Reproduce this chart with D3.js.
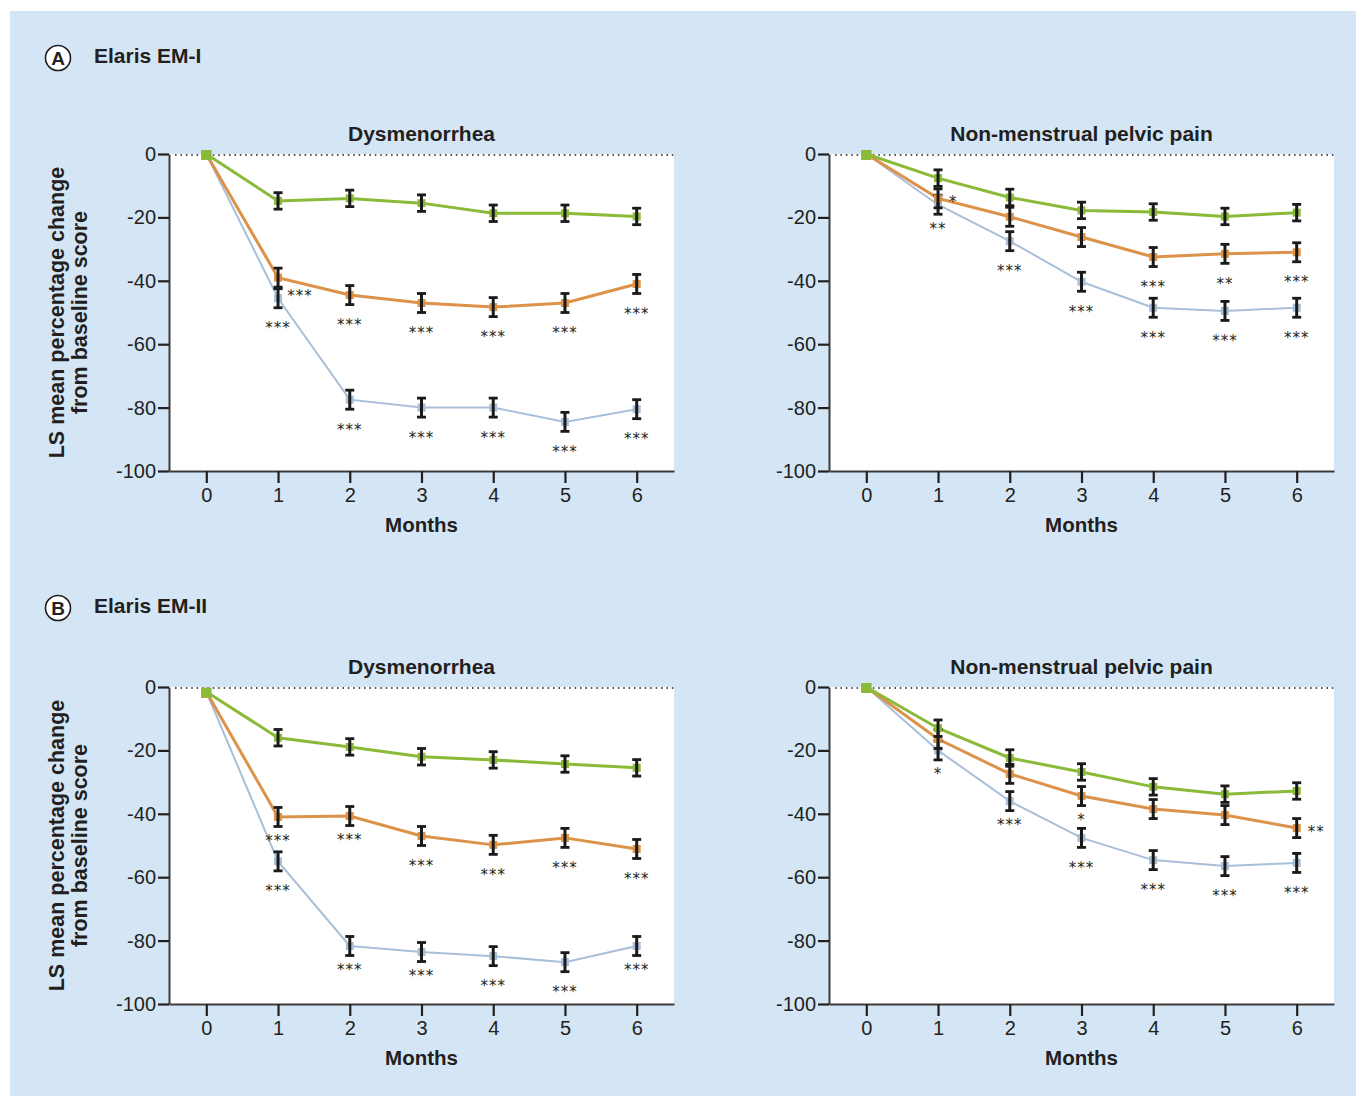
<!DOCTYPE html>
<html>
<head>
<meta charset="utf-8">
<script src="https://cdn.jsdelivr.net/npm/d3@7"></script>
<style>
  body { margin: 0; background: #fff; }
  svg { display: block; font-family: "Liberation Sans", Arial, sans-serif; }
  .tick text { font-size: 20px; fill: #231f20; }
  .bold { font-weight: bold; fill: #231f20; }
  .star { font-family: "DejaVu Sans", sans-serif; }
</style>
</head>
<body>
<div class="vis"></div>
<script>
// ---- data ----
const months = [0, 1, 2, 3, 4, 5, 6];
const yTicks = [0, -20, -40, -60, -80, -100];
const seriesColors = ['#a9bfd8', '#dc9248', '#8aba38']; // 200 mg BID, 150 mg QD, placebo

// Elaris EM-I, dysmenorrhea
const em1DysHigh = [0, -45.5, -77.5, -80, -80, -84.5, -80.5];
const em1DysLow = [0, -39, -44.5, -47, -48.3, -47, -41];
const em1DysPlacebo = [0, -14.8, -14, -15.5, -18.7, -18.7, -19.7];
// Elaris EM-I, non-menstrual pelvic pain
const em1NmppHigh = [0, -16, -27.5, -40.3, -48.5, -49.5, -48.5];
const em1NmppLow = [0, -14, -19.8, -26.2, -32.5, -31.5, -31];
const em1NmppPlacebo = [0, -7.6, -13.7, -17.8, -18.3, -19.7, -18.5];
// Elaris EM-II, dysmenorrhea
const em2DysHigh = [-1.5, -55, -81.7, -83.6, -84.9, -86.8, -81.7];
const em2DysLow = [-1.5, -41, -40.7, -47, -49.8, -47.6, -51.1];
const em2DysPlacebo = [-1.5, -16, -18.9, -22, -23, -24.3, -25.5];
// Elaris EM-II, non-menstrual pelvic pain
const em2NmppHigh = [0, -20, -36, -47.6, -54.6, -56.5, -55.5];
const em2NmppLow = [0, -16.4, -27.4, -34.4, -38.5, -40.4, -44.5];
const em2NmppPlacebo = [0, -13, -22.4, -26.8, -31.5, -33.8, -32.8];

// standard errors (half length of the error bars)
const seHigh = [0, 3, 3, 3, 3, 3, 3];
const seLow = [0, 3, 3, 3, 3, 3, 3];
const sePlacebo = [0, 2.6, 2.6, 2.6, 2.6, 2.6, 2.6];

// significance marks: [month, series index, text, placement]
const em1DysStars = [[1, 1, '***', 'right'], [1, 0, '***', 'below'], [2, 1, '***', 'below'], [2, 0, '***', 'below'],
  [3, 1, '***', 'below'], [3, 0, '***', 'below'], [4, 1, '***', 'below'], [4, 0, '***', 'below'],
  [5, 1, '***', 'below'], [5, 0, '***', 'below'], [6, 1, '***', 'below'], [6, 0, '***', 'below']];
const em1NmppStars = [[1, 1, '*', 'side'], [1, 0, '**', 'near'], [2, 0, '***', 'below'], [3, 0, '***', 'below'],
  [4, 1, '***', 'below'], [4, 0, '***', 'below'], [5, 1, '**', 'below'], [5, 0, '***', 'below'],
  [6, 1, '***', 'below'], [6, 0, '***', 'below']];
const em2DysStars = [[1, 1, '***', 'near'], [1, 0, '***', 'below'], [2, 1, '***', 'near'], [2, 0, '***', 'near'],
  [3, 1, '***', 'below'], [3, 0, '***', 'near'], [4, 1, '***', 'below'], [4, 0, '***', 'below'],
  [5, 1, '***', 'below'], [5, 0, '***', 'below'], [6, 1, '***', 'below'], [6, 0, '***', 'near']];
const em2NmppStars = [[1, 0, '*', 'near'], [2, 0, '***', 'near'], [3, 1, '*', 'near'], [3, 0, '***', 'below'],
  [4, 0, '***', 'below'], [5, 0, '***', 'below'], [6, 1, '**', 'side'], [6, 0, '***', 'below']];

const panels = [
  { title: 'Dysmenorrhea', series: [em1DysHigh, em1DysLow, em1DysPlacebo], stars: em1DysStars, col: 0, row: 0 },
  { title: 'Non-menstrual pelvic pain', series: [em1NmppHigh, em1NmppLow, em1NmppPlacebo], stars: em1NmppStars, col: 1, row: 0 },
  { title: 'Dysmenorrhea', series: [em2DysHigh, em2DysLow, em2DysPlacebo], stars: em2DysStars, col: 0, row: 1 },
  { title: 'Non-menstrual pelvic pain', series: [em2NmppHigh, em2NmppLow, em2NmppPlacebo], stars: em2NmppStars, col: 1, row: 1 }
];
const seList = [seHigh, seLow, sePlacebo];
const sections = [{ letter: 'A', name: 'Elaris EM-I' }, { letter: 'B', name: 'Elaris EM-II' }];

// ---- layout ----
const W = 1356, H = 1096;
const colX = [169, 829], plotW = 505;
const rowY = [154, 687], plotH = 317;
const lineWidths = [2, 3, 3];
const starOffsets = { below: [0, 35], near: [0, 29], right: [22, 23], side: [11, 9] };

const svg = d3.select('.vis').append('svg')
  .attr('width', W)
  .attr('height', H);

svg.append('rect')
  .attr('x', 10).attr('y', 11)
  .attr('width', W - 10).attr('height', H - 11)
  .attr('fill', '#d4e6f5');

// section headers
sections.forEach((s, i) => {
  const cy = i === 0 ? 58 : 608;
  svg.append('circle').attr('cx', 58).attr('cy', cy).attr('r', 12.5)
    .attr('fill', '#fff').attr('stroke', '#231f20').attr('stroke-width', 1.6);
  svg.append('text').attr('class', 'bold').attr('x', 58).attr('y', cy + 7)
    .attr('text-anchor', 'middle').style('font-size', '19px').text(s.letter);
  svg.append('text').attr('class', 'bold').attr('x', 94).attr('y', cy + 5)
    .style('font-size', '21px').text(s.name);
});

panels.forEach(p => {
  const x0 = colX[p.col], y0 = rowY[p.row];
  const g = svg.append('g').attr('transform', 'translate(' + x0 + ',' + y0 + ')');

  const x = d3.scaleLinear().domain([-0.52, 6.52]).range([0, plotW]);
  const y = d3.scaleLinear().domain([-100, 0]).range([plotH, 0]);

  g.append('rect').attr('width', plotW).attr('height', plotH).attr('fill', '#fff');

  // zero reference
  g.append('line')
    .attr('x1', 6).attr('x2', plotW)
    .attr('y1', y(0) + 1).attr('y2', y(0) + 1)
    .attr('stroke', '#231f20').attr('stroke-width', 1.6)
    .attr('stroke-dasharray', '1.6,3.8');

  // axes
  const yAx = g.append('g')
    .call(d3.axisLeft(y).tickValues(yTicks).tickFormat(d => String(d))
      .tickSize(11).tickSizeOuter(0).tickPadding(2));
  const xAx = g.append('g')
    .attr('transform', 'translate(0,' + plotH + ')')
    .call(d3.axisBottom(x).tickValues(months).tickFormat(d => String(d))
      .tickSize(12).tickSizeOuter(0).tickPadding(5));
  [yAx, xAx].forEach(a => {
    a.select('.domain').attr('stroke', '#3a3a3a').attr('stroke-width', 2);
    a.selectAll('.tick line').attr('stroke', '#231f20').attr('stroke-width', 2.2);
    a.selectAll('.tick text').attr('fill', '#231f20').style('font-size', '20px');
  });
  xAx.selectAll('.tick text').attr('dy', '0.72em');

  g.append('text').attr('class', 'bold')
    .attr('x', plotW / 2).attr('y', -13)
    .attr('text-anchor', 'middle').style('font-size', '21px')
    .text(p.title);
  g.append('text').attr('class', 'bold')
    .attr('x', (x(0) + x(6)) / 2).attr('y', plotH + 61)
    .attr('text-anchor', 'middle').style('font-size', '20.5px')
    .text('Months');

  if (p.col === 0) {
    const lab = g.append('text').attr('class', 'bold')
      .attr('transform', 'translate(' + (-105) + ',' + (plotH / 2) + ') rotate(-90)')
      .attr('text-anchor', 'middle').style('font-size', '21.5px');
    lab.append('tspan').attr('x', 0).attr('dy', 0).text('LS mean percentage change');
    lab.append('tspan').attr('x', 0).attr('dy', 23).text('from baseline score');
  }

  const line = d3.line().x((d, i) => x(months[i])).y(d => y(d));

  p.series.forEach((vals, si) => {
    g.append('path')
      .datum(vals)
      .attr('d', line)
      .attr('fill', 'none')
      .attr('stroke', seriesColors[si])
      .attr('stroke-width', lineWidths[si]);
  });

  p.series.forEach((vals, si) => {
    const se = seList[si];
    const pts = g.selectAll('.pt' + si).data(vals).enter().append('g');
    pts.append('rect')
      .attr('x', (d, i) => x(months[i]) - (i === 0 ? 5 : 4))
      .attr('y', d => y(d) - 4)
      .attr('width', (d, i) => i === 0 ? 10 : 8)
      .attr('height', (d, i) => i === 0 ? 10 : 8)
      .attr('fill', seriesColors[si]);
    const eb = pts.filter((d, i) => se[i] > 0);
    eb.append('line')
      .attr('x1', (d, i) => x(months[i + 1])).attr('x2', (d, i) => x(months[i + 1]))
      .attr('y1', (d, i) => y(d + se[i + 1])).attr('y2', (d, i) => y(d - se[i + 1]))
      .attr('stroke', '#1a1a1a').attr('stroke-width', 3);
    [1, -1].forEach(sign => {
      eb.append('line')
        .attr('x1', (d, i) => x(months[i + 1]) - 4.5).attr('x2', (d, i) => x(months[i + 1]) + 4.5)
        .attr('y1', (d, i) => y(d + sign * se[i + 1])).attr('y2', (d, i) => y(d + sign * se[i + 1]))
        .attr('stroke', '#1a1a1a').attr('stroke-width', 2.8);
    });
  });

  // significance marks
  g.selectAll('.star').data(p.stars).enter().append('text')
    .attr('class', 'star')
    .attr('x', d => x(d[0]) + starOffsets[d[3]][0])
    .attr('y', d => y(p.series[d[1]][d[0]]) + starOffsets[d[3]][1])
    .attr('text-anchor', d => (d[3] === 'side' ? 'start' : 'middle'))
    .style('font-size', '15px')
    .style('letter-spacing', '1px')
    .attr('fill', '#231f20')
    .text(d => d[2]);
});
</script>
</body>
</html>
